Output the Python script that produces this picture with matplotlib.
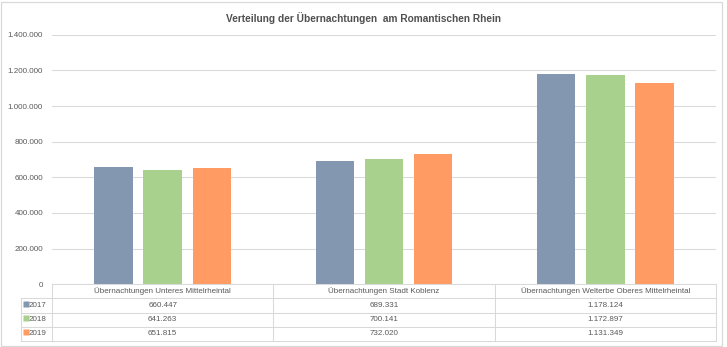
"""
Verteilung der Übernachtungen am Romantischen Rhein
Grouped bars per region with a data table underneath
"""
import numpy as np
import matplotlib.pyplot as plt
from matplotlib.patches import Rectangle
from matplotlib.ticker import FuncFormatter

plt.rcParams['font.family'] = ['Liberation Sans', 'DejaVu Sans']

# Data
regions = ['Übernachtungen Unteres Mittelrheintal',
           'Übernachtungen Stadt Koblenz',
           'Übernachtungen Welterbe Oberes Mittelrheintal']
years = ['2017', '2018', '2019']
nights_2017 = [660447, 689331, 1178124]
nights_2018 = [641263, 700141, 1172897]
nights_2019 = [651815, 732020, 1131349]
series = [nights_2017, nights_2018, nights_2019]
colors = ['#8497B0', '#A9D18E', '#FF9B63']

TEXT = '#595959'
GRID = '#D9D9D9'


def de_fmt(v):
    return f"{int(round(v)):,}".replace(",", ".")


W, H = 727, 347
fig = plt.figure(figsize=(W / 100, H / 100), dpi=100)

# Chart area frame
fig.patches.append(Rectangle((1 / W, 1.5 / H), 721 / W, 344 / H,
                             transform=fig.transFigure, fill=False,
                             edgecolor=GRID, lw=0.9))

# Plot area in pixel layout
x0, x1 = 52, 716
y_top, y_zero, y_bot = 34.7, 284.3, 341
ax = fig.add_axes([x0 / W, (H - y_zero) / H, (x1 - x0) / W, (y_zero - y_top) / H])

x = np.arange(len(regions))
bw = 0.174
step = 0.222
for i, (vals, c) in enumerate(zip(series, colors)):
    ax.bar(x + (i - 1) * step, vals, width=bw, color=c, zorder=3)

ax.set_xlim(-0.5, 2.5)
ax.set_ylim(0, 1400000)
ax.set_yticks(np.arange(0, 1400001, 200000))
ax.yaxis.set_major_formatter(FuncFormatter(lambda v, p: de_fmt(v)))
ax.tick_params(axis='y', length=0, pad=6.5, labelsize=5.8, labelcolor=TEXT)
ax.set_xticks([])
ax.grid(axis='y', color=GRID, lw=0.75, zorder=0)
for s in ax.spines.values():
    s.set_visible(False)

fig.text(0.5, 1 - 18 / H, 'Verteilung der Übernachtungen  am Romantischen Rhein',
         ha='center', va='center', fontsize=7.3, fontweight='bold', color='#505050')

# Data table below the bars
px_per_unit = (x1 - x0) / 3
tx0 = 20.7
left = -0.5 - (x0 - tx0) / px_per_unit
tab = fig.add_axes([tx0 / W, (H - y_bot) / H, (x1 - tx0) / W, (y_bot - y_zero) / H])
tab.set_xlim(left, 2.5)
tab.set_ylim(4, 0)
tab.axis('off')

lw = 0.75
tab.plot([-0.5, 2.5], [0, 0], color=GRID, lw=lw, clip_on=False)
for r in range(1, 5):
    tab.plot([left, 2.5], [r, r], color=GRID, lw=lw, clip_on=False)
tab.plot([left, left], [1, 4], color=GRID, lw=lw, clip_on=False)
for cx in [-0.5, 0.5, 1.5, 2.5]:
    tab.plot([cx, cx], [0, 4], color=GRID, lw=lw, clip_on=False)

for j, name in enumerate(regions):
    tab.text(j, 0.5, name, ha='center', va='center', fontsize=5.8, color=TEXT)

for i, (yr, vals, c) in enumerate(zip(years, series, colors)):
    row = i + 1.5
    tab.plot([left + 5.6 / px_per_unit], [row - 0.1], marker='s', ms=3.8,
             color=c, mec='none', clip_on=False, zorder=5)
    tab.text(left + 8.2 / px_per_unit, row, yr, ha='left', va='center',
             fontsize=5.8, color=TEXT)
    for j, v in enumerate(vals):
        tab.text(j, row, de_fmt(v), ha='center', va='center',
                 fontsize=5.8, color=TEXT)

plt.savefig('out.png', dpi=100)
